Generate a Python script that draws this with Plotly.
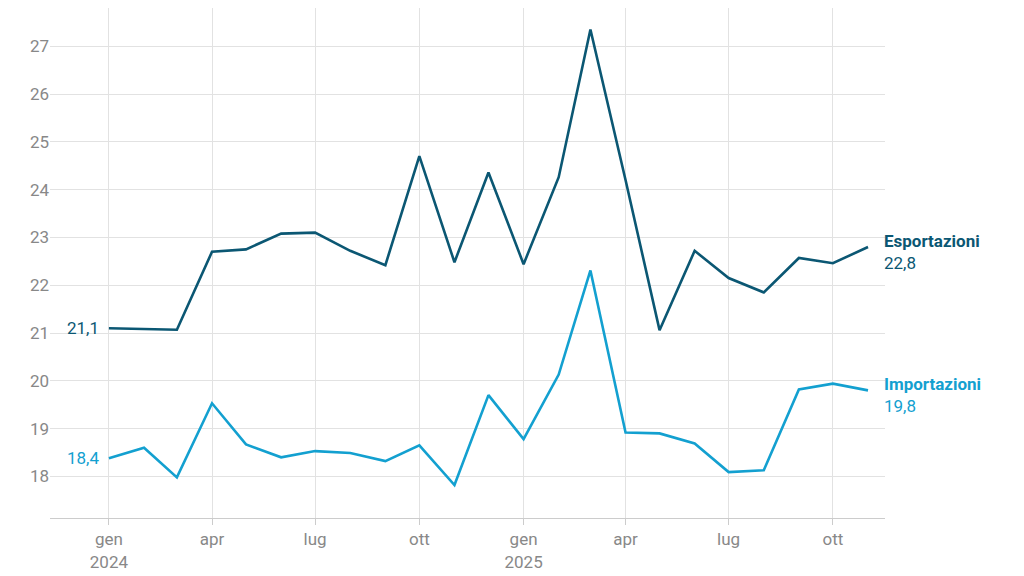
import plotly.graph_objects as go
import pandas as pd

months = pd.date_range("2024-01-01", "2025-11-01", freq="MS")
esportazioni = [21.1, 21.08, 21.07, 22.7, 22.75, 23.08, 23.1, 22.72, 22.42, 24.7, 22.48, 24.36,
                22.44, 24.26, 27.35, 24.2, 21.06, 22.72, 22.15, 21.85, 22.57, 22.46, 22.8]
importazioni = [18.38, 18.6, 17.98, 19.53, 18.67, 18.4, 18.53, 18.49, 18.32, 18.65, 17.82, 19.7,
                18.78, 20.13, 22.31, 18.92, 18.9, 18.69, 18.09, 18.13, 19.82, 19.94, 19.8]
tick_vals = ["2024-01-01", "2024-04-01", "2024-07-01", "2024-10-01", "2025-01-01", "2025-04-01", "2025-07-01", "2025-10-01"]
tick_text = ["gen<br>2024", "apr", "lug", "ott", "gen<br>2025", "apr", "lug", "ott"]

dark, light = "#0b5773", "#13a0d0"
fig = go.Figure()
fig.add_trace(go.Scatter(x=months, y=esportazioni, mode="lines", line=dict(color=dark, width=2.6)))
fig.add_trace(go.Scatter(x=months, y=importazioni, mode="lines", line=dict(color=light, width=2.6)))

def fmt(v):
    return f"{v:.1f}".replace(".", ",")

for name, ys, c in [("Esportazioni", esportazioni, dark), ("Importazioni", importazioni, light)]:
    fig.add_annotation(x=months[0], y=ys[0], text=fmt(ys[0]), showarrow=False, xanchor="right",
                       xshift=-8, font=dict(color=c, size=17))
    fig.add_annotation(x=months[-1], y=ys[-1], text=f"<b>{name}</b><br>{fmt(ys[-1])}", showarrow=False,
                       xanchor="left", align="left", xshift=14, yshift=-5, font=dict(color=c, size=17))

fig.update_layout(
    width=1024, height=576, showlegend=False, plot_bgcolor="white", paper_bgcolor="white",
    margin=dict(l=42, r=147, t=0, b=66), font=dict(family="Roboto", size=17, color="#888888"),
    separators=",.",
    xaxis=dict(range=["2023-11-10", "2025-11-16"], tickvals=tick_vals, ticktext=tick_text,
               showgrid=True, gridcolor="#e2e2e2", zeroline=False, ticks="outside", ticklen=6,
               tickcolor="#cccccc", showline=True, linecolor="#cccccc"),
    yaxis=dict(range=[17.13, 27.80], dtick=1, showgrid=True, gridcolor="#e2e2e2", zeroline=False),
)
fig.write_html("out.html")
